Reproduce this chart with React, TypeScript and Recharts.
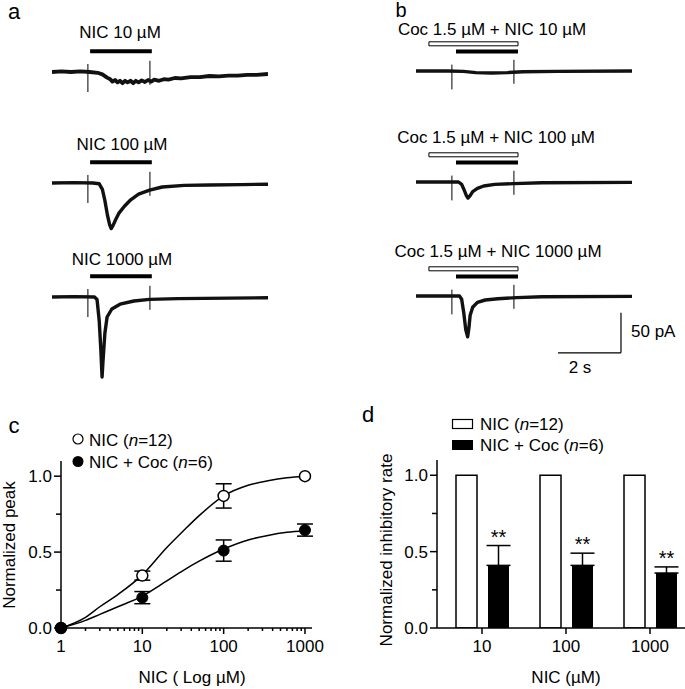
import React from 'react';
import {
  LineChart, Line, XAxis, YAxis, ReferenceArea, ReferenceLine,
  ComposedChart, Scatter, ErrorBar, BarChart, Bar, LabelList,
} from 'recharts';

const FONT = '"Liberation Sans", Arial, Helvetica, sans-serif';

// ---------- a / b : whole-cell currents (time in s, current in pA from baseline)
const nic10 = [
  { t: 0, i: 0 }, { t: 0.3, i: 0.8 }, { t: 0.6, i: 0 }, { t: 0.9, i: 0.8 }, { t: 1.2, i: 0 },
  { t: 1.45, i: -1 }, { t: 1.6, i: -3 }, { t: 1.75, i: -7 }, { t: 1.85, i: -9 }, { t: 1.92, i: -12 },
  { t: 2.0, i: -10 }, { t: 2.08, i: -13 }, { t: 2.16, i: -11 }, { t: 2.24, i: -14 }, { t: 2.32, i: -11 },
  { t: 2.4, i: -13 }, { t: 2.5, i: -11 }, { t: 2.58, i: -14 }, { t: 2.66, i: -11 }, { t: 2.75, i: -13 },
  { t: 2.85, i: -10.5 }, { t: 2.95, i: -12.5 }, { t: 3.05, i: -10 }, { t: 3.15, i: -12 }, { t: 3.25, i: -9.5 },
  { t: 3.4, i: -11 }, { t: 3.55, i: -9 }, { t: 3.7, i: -9.5 }, { t: 3.9, i: -7.5 }, { t: 4.1, i: -8 },
  { t: 4.4, i: -6.5 }, { t: 4.7, i: -6.5 }, { t: 5.0, i: -5 }, { t: 5.3, i: -5.5 }, { t: 5.6, i: -4.5 },
  { t: 5.9, i: -4.5 }, { t: 6.2, i: -3.5 }, { t: 6.5, i: -3.5 }, { t: 6.86, i: -2.5 },
];
const nic100 = [
  { t: 0, i: 0 }, { t: 0.7, i: 0.5 }, { t: 1.3, i: 0 }, { t: 1.5, i: -1 }, { t: 1.6, i: -8 },
  { t: 1.68, i: -22 }, { t: 1.76, i: -40 }, { t: 1.83, i: -52 }, { t: 1.88, i: -57 }, { t: 1.94, i: -53 },
  { t: 2.02, i: -46 }, { t: 2.12, i: -38 }, { t: 2.3, i: -29 }, { t: 2.5, i: -21 }, { t: 2.75, i: -14 },
  { t: 3.1, i: -9 }, { t: 3.5, i: -5 }, { t: 4.2, i: -3 }, { t: 5.0, i: -2.5 }, { t: 6.0, i: -2 }, { t: 6.86, i: -1.5 },
];
const nic1000 = [
  { t: 0, i: 0 }, { t: 0.7, i: 0.5 }, { t: 1.35, i: 0 }, { t: 1.43, i: -3 }, { t: 1.5, i: -30 },
  { t: 1.55, i: -65 }, { t: 1.59, i: -100 }, { t: 1.62, i: -80 }, { t: 1.68, i: -45 }, { t: 1.75, i: -25 },
  { t: 1.9, i: -15 }, { t: 2.16, i: -9 }, { t: 2.6, i: -5 }, { t: 3.1, i: -3 }, { t: 4.0, i: -2 }, { t: 6.86, i: -1 },
];
const coc10 = [
  { t: 0, i: 0 }, { t: 1.0, i: 0 }, { t: 1.5, i: -0.5 }, { t: 1.9, i: -2 }, { t: 2.4, i: -2.5 },
  { t: 2.9, i: -2 }, { t: 3.4, i: -1 }, { t: 4.5, i: -0.5 }, { t: 6.86, i: 0 },
];
const coc100 = [
  { t: 0, i: 0 }, { t: 1.35, i: 0 }, { t: 1.45, i: -3 }, { t: 1.53, i: -10 }, { t: 1.6, i: -17 },
  { t: 1.65, i: -20 }, { t: 1.72, i: -17 }, { t: 1.8, i: -12 }, { t: 1.95, i: -8 }, { t: 2.15, i: -5 },
  { t: 2.5, i: -3 }, { t: 3.1, i: -2 }, { t: 4.0, i: -1 }, { t: 6.86, i: -0.5 },
];
const coc1000 = [
  { t: 0, i: 0 }, { t: 1.38, i: 0 }, { t: 1.45, i: -4 }, { t: 1.52, i: -22 }, { t: 1.58, i: -42 },
  { t: 1.64, i: -51 }, { t: 1.68, i: -40 }, { t: 1.72, i: -24 }, { t: 1.8, i: -14 }, { t: 1.95, i: -8 },
  { t: 2.2, i: -5 }, { t: 2.6, i: -3.5 }, { t: 3.2, i: -2 }, { t: 4.0, i: -1 }, { t: 6.86, i: -0.5 },
];

// drug application (s) and stimulus artefacts [t, up, down] in pA
const nicOn = [1.21, 3.17];
const cocOn = [0.41, 3.24];
const nicOnB = [1.27, 3.24];
const artefactsA = [[1.14, 10, -25], [3.11, 14, -16]];
const artefactsB = [[1.14, 8, -23], [3.11, 14, -16]];
const scaleBar = { t: 4.51, i: -71, dt: 2, di: 50 };

// ---------- c : concentration-response
const concs = [1, 10, 100, 1000];
const nicPeak = [0, 0.345, 0.87, 1.0];
const nicSem = [0, 0.03, 0.08, 0];
const cocPeak = [0, 0.2, 0.51, 0.645];
const cocSem = [0, 0.04, 0.07, 0.04];
const fitConcs = [1, 2, 3, 5, 10, 20, 32, 50, 100, 200, 350, 600, 1000];
const nicFitY = [0, 0.07, 0.14, 0.22, 0.35, 0.53, 0.64, 0.74, 0.87, 0.94, 0.97, 0.99, 1.0];
const cocFitY = [0, 0.05, 0.09, 0.14, 0.21, 0.31, 0.38, 0.44, 0.52, 0.58, 0.61, 0.63, 0.64];
const cXTicks = [1, 2, 3, 4, 5, 6, 7, 8, 9, 10, 20, 30, 40, 50, 60, 70, 80, 90, 100, 200, 300, 400, 500, 600, 700, 800, 900, 1000];
const cXMajor = [1, 10, 100, 1000];
const yTicks = [0, 0.25, 0.5, 0.75, 1];
const yMajor = [0, 0.5, 1];

// ---------- d : normalized inhibitory rate
const doses = ['10', '100', '1000'];
const nicRate = [1, 1, 1];
const cocRate = [0.41, 0.41, 0.36];
const cocErr = [0.13, 0.08, 0.04];

const nicPts = concs.map((x, k) => ({ x, y: nicPeak[k], e: nicSem[k] }));
const cocPts = concs.map((x, k) => ({ x, y: cocPeak[k], e: cocSem[k] }));
const nicFit = fitConcs.map((x, k) => ({ x, y: nicFitY[k] }));
const cocFit = fitConcs.map((x, k) => ({ x, y: cocFitY[k] }));
const dData = doses.map((dose, k) => ({
  dose, nic: nicRate[k], coc: cocRate[k], err: [0, cocErr[k]], up: cocErr[k],
}));

const PX_PER_PA = 0.8;
const SWEEP = 6.86;
const AXIS = { stroke: '#000', strokeWidth: 1.5 };

function Txt({ x, y, size = 17, anchor = 'middle', rotate = false, children }: any) {
  const tx = anchor === 'middle' ? '-50%' : anchor === 'end' ? '-100%' : '0%';
  return (
    <div
      style={{
        position: 'absolute', left: x, top: y, fontSize: size, lineHeight: 1, whiteSpace: 'nowrap',
        transform: `translate(${tx}, -50%)${rotate ? ' rotate(-90deg)' : ''}`,
      }}
    >
      {children}
    </div>
  );
}

function Trace({ data, left, base, down, bars, marks, width = 3.4, children }: any) {
  const up = 36;
  return (
    <div style={{ position: 'absolute', left, top: base - up }}>
      <LineChart width={216} height={up + down} data={data} margin={{ top: 0, right: 0, bottom: 0, left: 0 }}>
        <XAxis dataKey="t" type="number" domain={[0, SWEEP]} hide allowDataOverflow />
        <YAxis type="number" domain={[-down / PX_PER_PA, up / PX_PER_PA]} hide allowDataOverflow />
        {bars.map((b: any, k: number) => (
          <ReferenceArea
            key={k} x1={b.on[0]} x2={b.on[1]} y1={b.y - 2.5} y2={b.y + 2.5}
            fill={b.open ? '#fff' : '#000'} fillOpacity={1}
            stroke={b.open ? '#000' : 'none'} strokeWidth={1}
          />
        ))}
        {marks.map(([t, hi, lo]: number[], k: number) => (
          <ReferenceLine key={k} segment={[{ x: t, y: hi }, { x: t, y: lo }]} stroke="#000" strokeWidth={1} />
        ))}
        <Line dataKey="i" type="linear" stroke="#111" strokeWidth={width} strokeLinejoin="round" dot={false} isAnimationActive={false} />
        {children}
      </LineChart>
    </div>
  );
}

function AxisTick({ x = 0, y = 0, payload, side, majors, fmt }: any) {
  const v = payload?.value;
  const major = majors.includes(v);
  const label = major ? (fmt ? fmt(v) : String(v)) : '';
  if (side === 'left') {
    const len = major ? 7 : 5;
    return (
      <g>
        <line x1={x} x2={x - len} y1={y} y2={y} stroke="#000" strokeWidth={1.5} />
        {label && (
          <text x={x - 9} y={y + 6} textAnchor="end" fontSize={17} fontFamily={FONT} fill="#000">{label}</text>
        )}
      </g>
    );
  }
  const len = major ? 6 : 3;
  return (
    <g>
      <line x1={x} x2={x} y1={y} y2={y + len} stroke="#000" strokeWidth={1.5} />
      {label && (
        <text x={x} y={y + 23.5} textAnchor="middle" fontSize={17} fontFamily={FONT} fill="#000">{label}</text>
      )}
    </g>
  );
}

const openDot = (p: any) => <circle cx={p.cx} cy={p.cy} r={5.5} fill="#fff" stroke="#000" strokeWidth={1.5} />;
const fillDot = (p: any) => <circle cx={p.cx} cy={p.cy} r={5.5} fill="#000" stroke="#000" strokeWidth={1} />;

const Stars = (p: any) => {
  const vb = p.viewBox || p;
  const { x, y, width, height } = vb;
  const v = Number(p.value);
  const err = cocErr[p.index] ?? p.payload?.up ?? 0;
  const top = y - (height / v) * err;
  return (
    <text x={x + width / 2} y={top - 2} textAnchor="middle" fontSize={20} fontFamily={FONT} fill="#000">**</text>
  );
};

export default function App() {
  const barsA = [{ on: nicOn, y: 26 }];
  const barsB = [{ on: cocOn, y: 34, open: true }, { on: nicOnB, y: 24.5 }];
  return (
    <div
      style={{
        position: 'absolute', left: 0, top: 0, width: 685, height: 689, overflow: 'hidden',
        background: '#fff', fontFamily: FONT, color: '#000',
      }}
    >
      {/* panel letters */}
      <Txt x={14} y={12} size={22}>a</Txt>
      <Txt x={401} y={9.5} size={20}>b</Txt>
      <Txt x={14} y={426} size={22}>c</Txt>
      <Txt x={368} y={415} size={22}>d</Txt>

      {/* a */}
      <Txt x={120} y={32}>NIC 10 µM</Txt>
      <Txt x={122} y={144}>NIC 100 µM</Txt>
      <Txt x={122} y={259}>NIC 1000 µM</Txt>
      <Trace data={nic10} left={52} base={72} down={30} bars={barsA} marks={artefactsA} width={3.8} />
      <Trace data={nic100} left={52} base={183} down={55} bars={barsA} marks={artefactsA} />
      <Trace data={nic1000} left={52} base={297} down={90} bars={barsA} marks={artefactsA} />

      {/* b */}
      <Txt x={492} y={28.5}>Coc 1.5 µM + NIC 10 µM</Txt>
      <Txt x={496} y={137}>Coc 1.5 µM + NIC 100 µM</Txt>
      <Txt x={498} y={251}>Coc 1.5 µM + NIC 1000 µM</Txt>
      <Trace data={coc10} left={416} base={71} down={30} bars={barsB} marks={artefactsB} />
      <Trace data={coc100} left={416} base={182} down={35} bars={barsB} marks={artefactsB} />
      <Trace data={coc1000} left={416} base={296} down={62} bars={barsB} marks={artefactsB}>
        <ReferenceLine
          segment={[{ x: scaleBar.t, y: scaleBar.i }, { x: scaleBar.t + scaleBar.dt, y: scaleBar.i }]}
          stroke="#000" strokeWidth={1.2}
        />
        <ReferenceLine
          segment={[{ x: scaleBar.t + scaleBar.dt, y: scaleBar.i }, { x: scaleBar.t + scaleBar.dt, y: scaleBar.i + scaleBar.di }]}
          stroke="#000" strokeWidth={1.2}
        />
      </Trace>
      <Txt x={631} y={331} anchor="start">50 pA</Txt>
      <Txt x={580} y={367}>2 s</Txt>

      {/* c */}
      <div style={{ position: 'absolute', left: 0, top: 400 }}>
        <ComposedChart width={330} height={289} margin={{ top: 61, right: 18, bottom: 31, left: 11 }}>
          <XAxis
            dataKey="x" type="number" scale="log" domain={[1, 1220]}
            ticks={cXTicks} interval={0} height={30} tickLine={false} tickSize={0} tickMargin={0}
            axisLine={AXIS} tick={<AxisTick side="bottom" majors={cXMajor} />}
          />
          <YAxis
            type="number" domain={[0, 1.1]} ticks={yTicks} interval={0} width={50}
            tickLine={false} tickSize={0} tickMargin={0} axisLine={AXIS}
            tick={<AxisTick side="left" majors={yMajor} fmt={(v: number) => v.toFixed(1)} />}
          />
          <Line data={nicFit} dataKey="y" type="monotone" stroke="#000" strokeWidth={1.5} dot={false} isAnimationActive={false} />
          <Line data={cocFit} dataKey="y" type="monotone" stroke="#000" strokeWidth={1.5} dot={false} isAnimationActive={false} />
          <Scatter data={nicPts} dataKey="y" shape={openDot} isAnimationActive={false}>
            <ErrorBar dataKey="e" direction="y" width={8} stroke="#000" strokeWidth={1.5} />
          </Scatter>
          <Scatter data={cocPts} dataKey="y" shape={fillDot} isAnimationActive={false}>
            <ErrorBar dataKey="e" direction="y" width={8} stroke="#000" strokeWidth={1.5} />
          </Scatter>
        </ComposedChart>
      </div>
      <Txt x={8.5} y={545} rotate>Normalized peak</Txt>
      <Txt x={192} y={677}>NIC ( Log µM)</Txt>

      {/* d */}
      <div style={{ position: 'absolute', left: 340, top: 400 }}>
        <BarChart
          width={354} height={289} data={dData} barSize={21} barGap={11}
          margin={{ top: 60, right: 2, bottom: 31, left: 47 }}
        >
          <XAxis
            dataKey="dose" type="category" height={30} padding={{ left: 3, right: 0 }} interval={0}
            tickLine={false} tickSize={0} tickMargin={0} axisLine={AXIS}
            tick={<AxisTick side="bottom" majors={doses} />}
          />
          <YAxis
            type="number" domain={[0, 1.1]} allowDataOverflow ticks={yTicks} interval={0} width={50}
            tickLine={false} tickSize={0} tickMargin={0} axisLine={AXIS}
            tick={<AxisTick side="left" majors={yMajor} fmt={(v: number) => v.toFixed(1)} />}
          />
          <Bar dataKey="nic" fill="#fff" stroke="#000" strokeWidth={1.5} isAnimationActive={false} />
          <Bar dataKey="coc" fill="#000" isAnimationActive={false}>
            <ErrorBar dataKey="err" direction="y" width={12} stroke="#000" strokeWidth={1.5} />
            <LabelList dataKey="coc" content={<Stars />} />
          </Bar>
        </BarChart>
      </div>
      <Txt x={386} y={550} rotate>Normalized inhibitory rate</Txt>
      <Txt x={566} y={677}>NIC (µM)</Txt>

      {/* legends */}
      <svg width={685} height={689} style={{ position: 'absolute', left: 0, top: 0, pointerEvents: 'none' }}>
        <circle cx={78} cy={439} r={5} fill="#fff" stroke="#000" strokeWidth={1.2} />
        <circle cx={78} cy={461.5} r={5.5} fill="#000" />
        <rect x={452.5} y={419.5} width={20} height={9} fill="#fff" stroke="#000" strokeWidth={1.2} />
        <rect x={452} y={440} width={21} height={10} fill="#000" />
      </svg>
      <Txt x={89} y={440} anchor="start">NIC (<i>n</i>=12)</Txt>
      <Txt x={89} y={462} anchor="start">NIC + Coc (<i>n</i>=6)</Txt>
      <Txt x={480} y={423.5} anchor="start">NIC (<i>n</i>=12)</Txt>
      <Txt x={480} y={445} anchor="start">NIC + Coc (<i>n</i>=6)</Txt>
    </div>
  );
}
